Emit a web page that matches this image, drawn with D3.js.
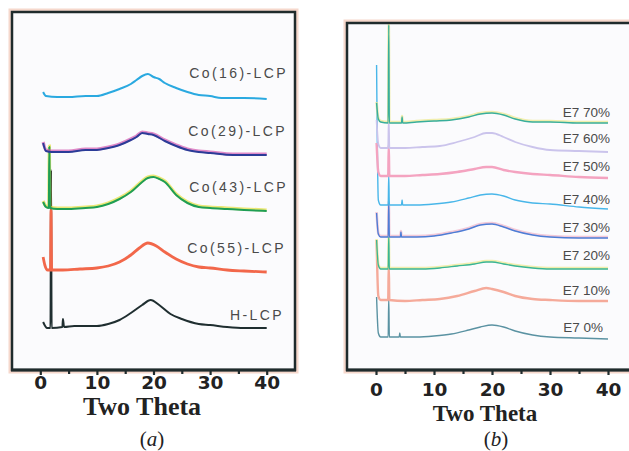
<!DOCTYPE html>
<html>
<head>
<meta charset="utf-8">
<script src="https://cdn.jsdelivr.net/npm/d3@7"></script>
<style>
    body { margin: 0; background: #ffffff; }
    svg { display: block; }
</style>
</head>
<body>
<div class="svg-container"></div>
<script>
// Panel (a): XRD patterns, [2theta, intensity (a.u., stacked)].
const hLcp = [[0.5, 48], [1.2, 42], [1.8, 42], [1.9, 200], [2.0, 42], [3.9, 43], [4.0, 51], [4.2, 43], [6, 44], [8, 44], [10, 44], [12, 46], [14, 50], [16, 57], [18, 65], [19.5, 70], [21, 65], [23, 56], [25, 51], [28, 46], [30, 45], [33, 43], [36, 42], [40, 42]];
const co55Lcp = [[0.5, 113], [0.8, 105], [1.3, 100], [1.8, 100], [1.9, 160], [2.0, 100], [4, 100], [7, 101], [10, 102], [12, 104], [14, 108], [16, 115], [17.5, 122], [19, 127], [20.5, 124], [22, 118], [24, 111], [26, 106], [28, 103], [30, 102], [33, 100], [36, 99], [40, 98]];
const co43Lcp = [[0.5, 168], [1, 163], [1.5, 162], [1.6, 223], [1.7, 162], [3, 161], [5, 161], [8, 162], [10, 163], [12, 166], [14, 171], [16, 178], [18, 188], [19, 192], [20, 193], [21, 191], [22, 188], [24, 175], [26, 167], [28, 163], [30, 162], [33, 161], [36, 160], [40, 159]];
const co29Lcp = [[0.5, 227], [1, 219], [2, 218], [5, 218], [8, 220], [10, 220], [12, 222], [14, 225], [16, 230], [17, 233], [18, 237], [19, 236], [20, 235], [22, 229], [24, 224], [26, 220], [28, 218], [30, 217], [34, 215], [40, 215]];
const co16Lcp = [[0.5, 278], [1, 274], [3, 273], [5, 273], [8, 274], [10, 274], [12, 277], [14, 281], [16, 286], [17, 290], [18, 294], [19, 296], [20, 293], [21, 291], [22, 287], [24, 282], [26, 278], [28, 275], [30, 274], [32, 272], [36, 272], [40, 271]];

// Panel (b): E7 content series.
const e7_0 = [[0.1, 73], [0.4, 37], [0.8, 33], [2.1, 33], [2.2, 72], [2.3, 33], [4.0, 33], [4.1, 37], [4.2, 33], [7, 33], [10, 34], [13, 36], [16, 40], [18, 43], [20, 45], [22, 43], [24, 39], [27, 35], [30, 33], [35, 32], [40, 31]];
const e7_10 = [[0.1, 130], [0.4, 74], [0.8, 70], [2.1, 70], [2.2, 105], [2.3, 70], [5, 69], [8, 70], [11, 71], [14, 74], [17, 79], [19, 82], [20, 81], [22, 78], [24, 74], [27, 71], [30, 70], [35, 69], [40, 69]];
const e7_20 = [[0.1, 130], [0.4, 105], [0.8, 101], [2.1, 101], [2.2, 135], [2.3, 101], [5, 101], [8, 101], [11, 102], [14, 104], [17, 106], [19, 108], [20, 108], [22, 106], [24, 104], [27, 102], [30, 101], [35, 101], [40, 101]];
const e7_30 = [[0.1, 157], [0.4, 136], [0.8, 133], [2.1, 133], [2.2, 168], [2.3, 133], [4.2, 133], [4.3, 138], [4.4, 133], [7, 133], [10, 134], [13, 137], [16, 141], [18, 145], [20, 146], [22, 143], [24, 139], [27, 135], [30, 133], [35, 132], [40, 132]];
const e7_40 = [[0.1, 305], [0.4, 170], [0.8, 165], [2.1, 165], [2.2, 195], [2.3, 165], [4.4, 165], [4.5, 170], [4.6, 165], [7, 165], [10, 166], [13, 168], [16, 172], [18, 175], [20, 176], [22, 174], [24, 170], [27, 167], [30, 166], [35, 163], [40, 161]];
const e7_50 = [[0.1, 227], [0.4, 198], [0.8, 194], [2.1, 194], [2.2, 225], [2.3, 194], [5, 194], [8, 195], [11, 196], [14, 198], [17, 201], [19, 203], [20, 203], [22, 200], [24, 198], [27, 196], [30, 195], [35, 193], [40, 192]];
const e7_60 = [[0.1, 250], [0.4, 226], [0.8, 222], [2.1, 222], [2.2, 250], [2.3, 222], [5, 222], [8, 223], [11, 224], [14, 228], [17, 233], [19, 237], [20, 237], [22, 233], [24, 228], [27, 223], [30, 220], [35, 219], [40, 218]];
const e7_70 = [[0.1, 267], [0.4, 251], [0.8, 248], [2.1, 247], [2.2, 345], [2.3, 247], [4.4, 247], [4.5, 253], [4.6, 247], [7, 248], [10, 249], [13, 250], [16, 253], [18, 256], [20, 257], [22, 255], [24, 251], [27, 248], [30, 248], [35, 247], [40, 247]];

const majorTicks = [0, 10, 20, 30, 40];
const minorTicks = [5, 15, 25, 35];

const panelA = {
    box: { left: 12, right: 295, top: 12, bottom: 370 },
    yMax: 358,
    tickPadding: 1,
    tickFont: 18.5,
    titleX: 142, titleY: 415, titleFont: 26,
    tagX: 152, tag: "a",
    labelFont: 14, labelSpacing: 2.4,
    series: [
        { name: "H-LCP", data: hLcp, color: "#1f2e30", width: 2, labelX: 284, labelY: 315 },
        { name: "Co(55)-LCP", data: co55Lcp, color: "#f2674a", width: 2.8, labelX: 286, labelY: 248 },
        { name: "Co(43)-LCP", data: co43Lcp, color: "#1f9e55", halo: "#e6df3c", width: 2, labelX: 288, labelY: 187 },
        { name: "Co(29)-LCP", data: co29Lcp, color: "#2b3c98", halo: "#d358b0", width: 2, labelX: 287, labelY: 131 },
        { name: "Co(16)-LCP", data: co16Lcp, color: "#2aa9e0", width: 2, labelX: 288, labelY: 73 },
    ],
};

const panelB = {
    box: { left: 347, right: 637, top: 23, bottom: 370 },
    yMax: 347,
    tickPadding: 8,
    tickFont: 18.5,
    titleX: 485, titleY: 421, titleFont: 23,
    tagX: 496, tag: "b",
    labelFont: 13.5, labelSpacing: 0,
    series: [
        { name: "E7 0%", data: e7_0, color: "#5a92a2", width: 1.4, labelX: 603, labelY: 327 },
        { name: "E7 10%", data: e7_10, color: "#f5aa9a", width: 2.4, labelX: 610, labelY: 290 },
        { name: "E7 20%", data: e7_20, color: "#3ab595", halo: "#ece88a", width: 1.3, labelX: 610, labelY: 255 },
        { name: "E7 30%", data: e7_30, color: "#4d7dd6", halo: "#f0b4c8", width: 1.4, labelX: 610, labelY: 227 },
        { name: "E7 40%", data: e7_40, color: "#48b6e9", width: 1.4, labelX: 610, labelY: 199 },
        { name: "E7 50%", data: e7_50, color: "#f4a3c0", width: 2.4, labelX: 610, labelY: 166 },
        { name: "E7 60%", data: e7_60, color: "#cbc4ec", width: 1.8, labelX: 610, labelY: 138 },
        { name: "E7 70%", data: e7_70, color: "#38ae9c", halo: "#ece88a", width: 1.4, labelX: 610, labelY: 112 },
    ],
};

const svg = d3
    .select(".svg-container")
    .append("svg")
    .attr("width", 629)
    .attr("height", 451);

drawPanel(panelA);
drawPanel(panelB);

function drawPanel(panel) {
    const box = panel.box;
    const x = d3.scaleLinear().domain([-5, 45]).range([box.left, box.right]);
    const y = d3.scaleLinear().domain([0, panel.yMax]).range([box.bottom, box.top]);

    const g = svg.append("g");

    // Plot background with a faint warm fringe like the scan.
    g.append("rect")
        .attr("x", box.left - 2)
        .attr("y", box.top - 2)
        .attr("width", box.right - box.left + 4)
        .attr("height", box.bottom - box.top + 4)
        .attr("fill", "none")
        .attr("stroke", "#f6d8cc")
        .attr("stroke-width", 3);
    g.append("rect")
        .attr("x", box.left)
        .attr("y", box.top)
        .attr("width", box.right - box.left)
        .attr("height", box.bottom - box.top)
        .attr("fill", "#fbfbfd");

    const line = d3
        .line()
        .x((d) => x(d[0]))
        .y((d) => y(d[1]))
        .curve(d3.curveMonotoneX);

    const curves = g.append("g").classed("curves", true);
    panel.series.forEach((s) => {
        if (s.halo) {
            curves.append("path")
                .attr("d", line(s.data))
                .attr("fill", "none")
                .attr("stroke", s.halo)
                .attr("stroke-width", s.width + 1.2)
                .attr("stroke-opacity", 0.7)
                .attr("transform", "translate(0,-1)");
        }
        curves.append("path")
            .attr("d", line(s.data))
            .attr("fill", "none")
            .attr("stroke", s.color)
            .attr("stroke-width", s.width)
            .attr("stroke-linejoin", "round");
    });

    // Series labels.
    g.selectAll("text.series-label")
        .data(panel.series)
        .enter()
        .append("text")
        .classed("series-label", true)
        .attr("x", (s) => s.labelX)
        .attr("y", (s) => s.labelY)
        .attr("dy", "0.36em")
        .attr("text-anchor", "end")
        .attr("font-family", "'Liberation Sans', Arial, sans-serif")
        .attr("font-size", panel.labelFont)
        .attr("letter-spacing", panel.labelSpacing)
        .attr("fill", "#4a4a4a")
        .text((s) => s.name);

    // Frame.
    g.append("rect")
        .attr("x", box.left)
        .attr("y", box.top)
        .attr("width", box.right - box.left)
        .attr("height", box.bottom - box.top)
        .attr("fill", "none")
        .attr("stroke", "#1f2b2c")
        .attr("stroke-width", 2.5);

    // Bottom axis: major ticks with labels, minor ticks without.
    const axisMajor = d3
        .axisBottom(x)
        .tickValues(majorTicks)
        .tickSize(5)
        .tickPadding(panel.tickPadding)
        .tickFormat(d3.format("d"));
    const axisMinor = d3.axisBottom(x).tickValues(minorTicks).tickSize(4).tickFormat("");

    const axisG = g.append("g").attr("transform", "translate(0," + box.bottom + ")");
    axisG.call(axisMajor);
    axisG.append("g").call(axisMinor);
    axisG.selectAll(".domain").remove();
    axisG.selectAll(".tick line").attr("stroke", "#1f2b2c").attr("stroke-width", 2.2);
    axisG
        .selectAll(".tick text")
        .attr("fill", "#222")
        .attr("font-family", "'DejaVu Sans', sans-serif")
        .attr("font-weight", "bold")
        .attr("font-size", panel.tickFont);

    g.append("line")
        .attr("x1", box.left - 1)
        .attr("x2", box.right + 1)
        .attr("y1", box.bottom)
        .attr("y2", box.bottom)
        .attr("stroke", "#1f2b2c")
        .attr("stroke-width", 3);

    g.append("text")
        .attr("x", panel.titleX)
        .attr("y", panel.titleY)
        .attr("text-anchor", "middle")
        .attr("font-family", "'Liberation Serif', 'Times New Roman', serif")
        .attr("font-weight", "bold")
        .attr("font-size", panel.titleFont)
        .attr("fill", "#222")
        .text("Two Theta");

    const tag = g.append("text")
        .attr("x", panel.tagX)
        .attr("y", 446)
        .attr("text-anchor", "middle")
        .attr("font-family", "'Liberation Serif', 'Times New Roman', serif")
        .attr("font-size", 21)
        .attr("fill", "#222");
    tag.append("tspan").text("(");
    tag.append("tspan").attr("font-style", "italic").text(panel.tag);
    tag.append("tspan").text(")");
}
</script>
</body>
</html>
